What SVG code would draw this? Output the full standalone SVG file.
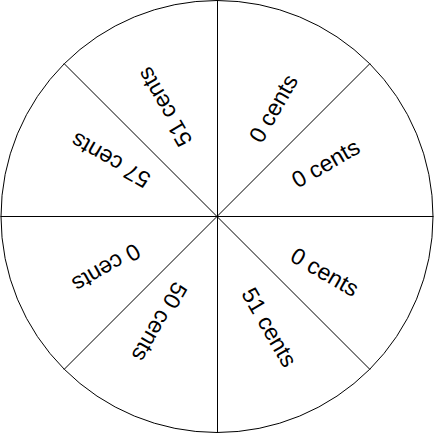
<svg xmlns="http://www.w3.org/2000/svg" width="434" height="434" viewBox="0 0 434 434">
<style>
.rim{fill:#fff;stroke:#000;stroke-width:1}
.div{stroke:#000;stroke-width:1;fill:none}
.lbl{font-family:"Liberation Sans",Arial,sans-serif;font-size:23px;fill:#000;text-anchor:middle}
</style>
<rect width="434" height="434" fill="#fff"/>
<circle class="rim" cx="217" cy="216.5" r="216"/>
<g id="connectors">
<line class="div" x1="217.5" y1="0.5" x2="217.5" y2="433"/>
<line class="div" x1="0.5" y1="216.5" x2="433.5" y2="216.5"/>
<line class="div" x1="64" y1="63.5" x2="370" y2="369.5"/>
<line class="div" x1="370" y1="63.5" x2="64" y2="369.5"/>
</g>
<g id="s1"><text class="lbl" transform="translate(273.8,108.8) rotate(-60)" dy="0.32em">0 cents</text></g>
<g id="s2"><text class="lbl" transform="translate(325.8,163.8) rotate(-30)" dy="0.32em">0 cents</text></g>
<g id="s3"><text class="lbl" transform="translate(324.5,272.5) rotate(30)" dy="0.32em">0 cents</text></g>
<g id="s4"><text class="lbl" transform="translate(268.8,327.5) rotate(60)" dy="0.32em">51 cents</text></g>
<g id="s5"><text class="lbl" transform="translate(159.2,321.7) rotate(120)" dy="0.32em">50 cents</text></g>
<g id="s6"><text class="lbl" transform="translate(106.2,267.5) rotate(150)" dy="0.32em">0 cents</text></g>
<g id="s7"><text class="lbl" transform="translate(110.8,160) rotate(210)" dy="0.32em">57 cents</text></g>
<g id="s8"><text class="lbl" transform="translate(165,106.7) rotate(240)" dy="0.32em">51 cents</text></g>
</svg>
